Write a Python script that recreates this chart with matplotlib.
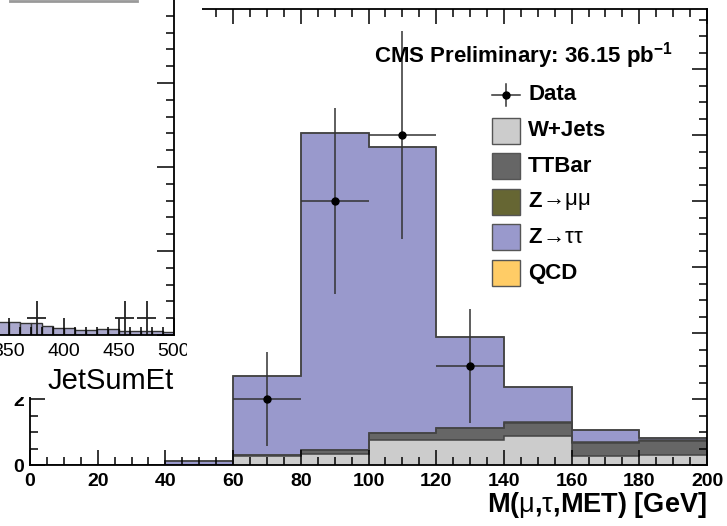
import numpy as np
import matplotlib
matplotlib.use('Agg')
import matplotlib.pyplot as plt
from matplotlib.patches import Rectangle
from matplotlib.lines import Line2D
from matplotlib.ticker import MultipleLocator
from matplotlib.transforms import Bbox, TransformedBbox

plt.rcParams['font.family'] = ['Liberation Sans', 'DejaVu Sans']
plt.rcParams['mathtext.fontset'] = 'custom'
plt.rcParams['mathtext.rm'] = 'Liberation Sans'
plt.rcParams['mathtext.it'] = 'Liberation Sans'
plt.rcParams['mathtext.bf'] = 'Liberation Sans:bold'

# ── Data: main plot, M(mu,tau,MET), 20 GeV bins ──────────────────────────────
edges   = np.arange(0, 201, 20)
wjets   = [0, 0, 0,    0.26, 0.33, 0.76, 0.76, 0.88, 0.27, 0.30]
ttbar   = [0, 0, 0,    0.03, 0.12, 0.21, 0.36, 0.39, 0.40, 0.43]
zmumu   = [0, 0, 0,    0.01, 0.01, 0.01, 0.01, 0.03, 0.03, 0.02]
ztautau = [0, 0, 0.12, 2.40, 9.60, 8.67, 2.75, 1.06, 0.36, 0.07]
qcd     = [0, 0, 0,    0,    0,    0,    0,    0,    0,    0]
data    = [0, 0, 0,    2,    8,    10,   3,    0,    0,    0]

stack_labels = ['W+Jets', 'TTBar', ('Z', r'→$\mu\mu$'), ('Z', r'→$\tau\tau$'), 'QCD']
stack_colors = ['#cccccc', '#666666', '#666633', '#9999cc', '#ffcc66']
stack_values = [wjets, ttbar, zmumu, ztautau, qcd]

# ── Data: inset (JetSumEt) ────────────────────────────────────────────────────
inset_edges  = np.arange(330, 501, 10)
inset_values = [0.80, 0.80, 0.78, 0.72, 0.70, 0.55, 0.42, 0.42, 0.30,
                0.30, 0.36, 0.36, 0.24, 0.24, 0.22, 0.22, 0.20]
inset_ticks  = [350, 400, 450, 500]
inset_data_x = [375, 455, 475]
inset_data_y = [1, 1, 1]

W, H = 727, 526
fig = plt.figure(figsize=(W / 100, H / 100), dpi=100)

def fx(x):
    return x / W

def fy(y):
    return 1 - y / H

# ── Main axes ─────────────────────────────────────────────────────────────────
ax = fig.add_axes([fx(30), fy(465), (707 - 30) / W, (465 - 9) / H])
ax.set_xlim(0, 200)
ax.set_ylim(0, 456 / 33)

bottom = np.zeros(len(edges) - 1)
tops = []
for vals, col in zip(stack_values, stack_colors):
    top = bottom + np.array(vals)
    ax.stairs(top, edges, baseline=bottom, fill=True, color=col, lw=0)
    tops.append(top)
    bottom = top
for top in tops:
    ax.stairs(top, edges, baseline=None, color='#444444', lw=1.1)

data = np.array(data, dtype=float)
centers = 0.5 * (edges[:-1] + edges[1:])
m = data > 0
ax.errorbar(centers[m], data[m], xerr=10, yerr=np.sqrt(data[m]), fmt='o',
            color='black', ecolor='#333333', elinewidth=1.1, ms=5, capsize=0)

for sp in ax.spines.values():
    sp.set_linewidth(1.3)
ax.xaxis.set_major_locator(MultipleLocator(20))
ax.xaxis.set_minor_locator(MultipleLocator(5))
ax.yaxis.set_major_locator(MultipleLocator(2))
ax.yaxis.set_minor_locator(MultipleLocator(0.5))
ax.tick_params(which='both', direction='in', top=True, right=True, width=1.1)
ax.tick_params(which='major', length=11, labelsize=14)
ax.tick_params(which='minor', length=5.5)
ax.tick_params(axis='x', pad=6)
ax.tick_params(axis='y', pad=4)
plt.setp(ax.get_xticklabels() + ax.get_yticklabels(), fontweight='bold')
ax.set_xlabel(r'M($\mu$,$\tau$,MET) [GeV]', loc='right', fontsize=19.5,
              fontweight='bold', labelpad=0)

fig.text(fx(524), fy(56), r'CMS Preliminary: 36.15 pb$^{\mathbf{-1}}$',
         ha='center', va='center', fontsize=16, fontweight='bold')

# ── Legend ────────────────────────────────────────────────────────────────────
row0, step = 95, 35.6
fig.add_artist(Line2D([fx(492), fx(520)], [fy(row0), fy(row0)], color='#333333', lw=1.1))
fig.add_artist(Line2D([fx(506), fx(506)], [fy(row0 - 11), fy(row0 + 11)], color='#333333', lw=1.1))
fig.add_artist(Line2D([fx(506)], [fy(row0)], marker='o', ms=5, color='black'))
fig.text(fx(528), fy(row0), 'Data', ha='left', va='center', fontsize=16, fontweight='bold')
for i, (lab, col) in enumerate(zip(stack_labels, stack_colors)):
    yc = row0 + step * (i + 1)
    fig.add_artist(Rectangle((fx(492), fy(yc + 13)), 28 / W, 26 / H, facecolor=col,
                             edgecolor='#555555', lw=1, transform=fig.transFigure))
    if isinstance(lab, tuple):
        t = fig.text(fx(528), fy(yc), lab[0], ha='left', va='center',
                     fontsize=16, fontweight='bold')
        ax.annotate(lab[1], xy=(1, 0.5), xycoords=t, ha='left', va='center',
                    fontsize=16, annotation_clip=False)
    else:
        fig.text(fx(528), fy(yc), lab, ha='left', va='center', fontsize=16,
                 fontweight='bold')

# ── Inset (pasted plot covering the top-left) ────────────────────────────────
fig.add_artist(Rectangle((0, fy(397)), fx(202), 1 - fy(397), facecolor='white',
                         edgecolor='none', transform=fig.transFigure, zorder=5))
fig.add_artist(Line2D([fx(10), fx(137)], [fy(1), fy(1)], color='#999999', lw=2, zorder=6))

px_x, px_y = 1.1, 16.8
axi = fig.add_axes([fx(-200), fy(335), 374 / W, 435 / H], zorder=6)
axi.set_facecolor('none')
axi.set_xlim(500 - 374 / px_x, 500)
axi.set_ylim(0, 435 / px_y)
axi.bar(inset_edges[:-1], inset_values, width=10, align='edge',
        color='#aaa8cc', edgecolor='#333333', lw=1)
axi.errorbar(inset_data_x, inset_data_y, xerr=9, yerr=1, fmt='none',
             ecolor='#222222', elinewidth=1.3, capsize=0)
axi.spines['top'].set_visible(False)
axi.spines['left'].set_visible(False)
for sp in axi.spines.values():
    sp.set_linewidth(1.3)
axi.set_xticks(inset_ticks)
axi.xaxis.set_minor_locator(MultipleLocator(10))
axi.yaxis.set_major_locator(MultipleLocator(5))
axi.yaxis.set_minor_locator(MultipleLocator(1))
axi.tick_params(which='both', direction='in', left=False, right=True,
                labelleft=False, width=1.1)
axi.tick_params(which='major', length=12, labelsize=14, pad=6)
axi.tick_params(which='minor', length=6)
axi.set_xlabel('JetSumEt', loc='right', fontsize=21, labelpad=5)
clip = TransformedBbox(Bbox([[0, 0], [fx(187), 1]]), fig.transFigure)
for lbl in axi.get_xticklabels():
    lbl.set_clip_box(clip)
    lbl.set_clip_on(True)

fig.savefig('out.png', dpi=100)
